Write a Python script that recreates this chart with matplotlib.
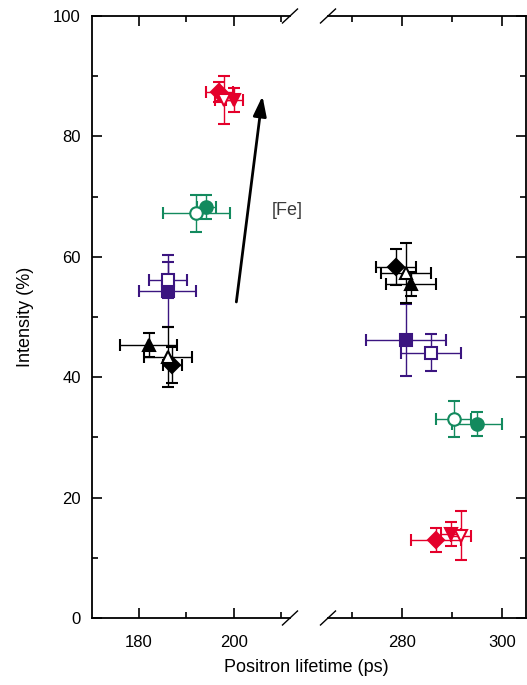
import matplotlib
matplotlib.use("Agg")
import matplotlib.pyplot as plt
from matplotlib.ticker import MultipleLocator

plt.rcParams['font.family'] = ['Liberation Sans', 'DejaVu Sans']

# ---- data: (left lifetime, left intensity) / (right lifetime, right intensity) ----
names = ["red_diamond", "red_tri_filled", "red_tri_open",
         "green_open", "green_filled",
         "purple_open", "purple_filled",
         "black_tri_filled", "black_tri_open", "black_diamond"]
tau1 = [196.9, 200.1, 198.0, 192.1, 194.2, 186.1, 186.1, 182.1, 186.1, 187.0]
tau1_err = [2.8, 1.7, 2.0, 7.0, 2.0, 4.0, 6.0, 6.0, 5.0, 2.0]
int1 = [87.4, 86.1, 86.0, 67.2, 68.3, 56.2, 54.3, 45.3, 43.3, 42.0]
int1_err = [1.7, 2.0, 4.0, 3.0, 2.0, 3.0, 6.0, 2.0, 5.0, 3.0]
tau2 = [286.9, 289.9, 291.9, 290.4, 295.1, 285.8, 280.9, 281.9, 280.9, 278.8]
tau2_err = [5.0, 2.0, 2.0, 3.5, 5.0, 6.0, 8.0, 5.0, 5.0, 4.0]
int2 = [13.0, 14.0, 13.7, 33.1, 32.2, 44.1, 46.2, 55.5, 57.3, 58.3]
int2_err = [2.0, 2.0, 4.0, 3.0, 2.0, 3.0, 6.0, 2.0, 5.0, 3.0]

RED, GREEN, PURPLE, BLACK = "#e4002b", "#138a5e", "#3b1580", "#000000"
colors = [RED, RED, RED, GREEN, GREEN, PURPLE, PURPLE, BLACK, BLACK, BLACK]
markers = ["D", "v", "v", "o", "o", "s", "s", "^", "^", "D"]
filled = [True, True, False, False, True, False, True, True, False, True]
msizes = [8.5, 9, 9, 9, 9, 8, 8, 9, 9, 8.5]

arrow_tail = (200.5, 52.5)
arrow_head = (206.0, 86.7)

W, H = 527, 685
fig = plt.figure(figsize=(W / 100, H / 100), dpi=100)

def frac_axes(x0, x1, ytop, ybot):
    return [x0 / W, 1 - ybot / H, (x1 - x0) / W, (ybot - ytop) / H]

ax1 = fig.add_axes(frac_axes(92, 290, 16, 618))
ax2 = fig.add_axes(frac_axes(328, 526, 16, 618))

for ax, tau, terr, inten, ierr in [(ax1, tau1, tau1_err, int1, int1_err),
                                   (ax2, tau2, tau2_err, int2, int2_err)]:
    for i in range(len(names)):
        c = colors[i]
        ax.errorbar(tau[i], inten[i], xerr=terr[i], yerr=ierr[i], fmt=markers[i],
                    color=c, ecolor=c, elinewidth=1.0, capsize=4, capthick=1.0,
                    ms=msizes[i], mfc=c if filled[i] else "white", mec=c, mew=1.5,
                    zorder=3 if filled[i] else 4)

ax1.set_xlim(170.1, 211.8)
ax2.set_xlim(265.3, 304.8)
for ax in (ax1, ax2):
    ax.set_ylim(0, 100)
    ax.yaxis.set_major_locator(MultipleLocator(20))
    ax.yaxis.set_minor_locator(MultipleLocator(10))
    ax.xaxis.set_major_locator(MultipleLocator(20))
    ax.xaxis.set_minor_locator(MultipleLocator(10))
    ax.tick_params(which="both", direction="in", top=True, bottom=True,
                   width=1.2, labelsize=12, colors="black")
    ax.tick_params(which="major", length=7.5)
    ax.tick_params(axis="y", which="major", pad=8)
    ax.tick_params(axis="x", which="major", pad=12)
    ax.tick_params(which="minor", length=4.5)
    for s in ax.spines.values():
        s.set_linewidth(1.3)

ax1.tick_params(which="both", left=True, right=False)
ax1.spines["right"].set_visible(False)
ax2.spines["left"].set_visible(False)
ax2.tick_params(which="both", left=False, right=True, labelleft=False)

ax1.set_ylabel("Intensity (%)", fontsize=13, labelpad=14)
fig.text(306 / W, 1 - 667 / H, "Positron lifetime (ps)", fontsize=13,
         ha="center", va="center")

# arrow and label
ax1.annotate("", xy=arrow_head, xytext=arrow_tail,
             arrowprops=dict(arrowstyle="-|>,head_length=0.6,head_width=0.2",
                             lw=2, color="black",
                             mutation_scale=20, shrinkA=0, shrinkB=0),
             annotation_clip=False)
ax1.text(207.9, 67.7, "[Fe]", fontsize=13, color="#3a3a3a",
         ha="left", va="center", clip_on=False)

# break marks
dx = 7.5 / 198
dy = 7 / 602
for ax, xpos in [(ax1, 1.0), (ax2, 0.0)]:
    for ypos in (0.0, 1.0):
        ax.plot([xpos - dx, xpos + dx], [ypos - dy, ypos + dy], color="black",
                lw=1.0, transform=ax.transAxes, clip_on=False)

fig.savefig("out.png", dpi=100)
